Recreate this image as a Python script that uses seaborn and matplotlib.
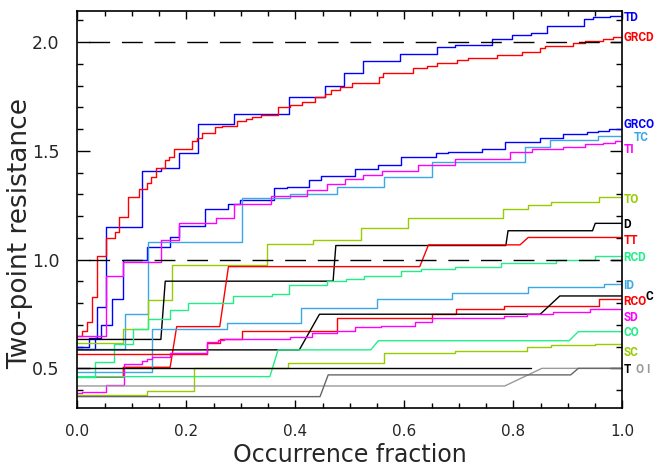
import numpy as np
import pandas as pd
import matplotlib
matplotlib.use("Agg")
import matplotlib.pyplot as plt
import matplotlib.transforms as mtransforms
from matplotlib.ticker import MultipleLocator, FormatStrFormatter
import seaborn as sns

# ---------------- data (occurrence fraction vs two-point resistance) -------------
TD_x = [0, 0.021, 0.035, 0.052, 0.119, 0.153, 0.187, 0.221, 0.288, 0.389, 0.455, 0.489, 0.523, 0.592,
        0.659, 0.693, 0.760, 0.797, 0.832, 0.862, 0.930, 0.945, 0.977, 1.0]
TD_y = [0.600, 0.640, 0.782, 1.150, 1.408, 1.422, 1.491, 1.624, 1.670, 1.750, 1.800, 1.857, 1.915, 1.946,
        1.977, 1.988, 2.014, 2.035, 2.044, 2.076, 2.106, 2.115, 2.122, 2.122]

GRCD_x = [0, 0.009, 0.018, 0.026, 0.035, 0.052, 0.068, 0.077, 0.093, 0.112, 0.127, 0.135, 0.144, 0.161,
          0.168, 0.177, 0.210, 0.220, 0.228, 0.252, 0.265, 0.293, 0.309, 0.321, 0.336, 0.368, 0.390,
          0.412, 0.436, 0.455, 0.465, 0.482, 0.503, 0.554, 0.561, 0.616, 0.641, 0.659, 0.696, 0.717,
          0.769, 0.815, 0.849, 0.858, 0.910, 0.931, 0.965, 0.983, 1.0]
GRCD_y = [0.647, 0.672, 0.715, 0.830, 1.018, 1.101, 1.126, 1.198, 1.290, 1.325, 1.354, 1.382, 1.423, 1.459,
          1.471, 1.511, 1.546, 1.561, 1.581, 1.609, 1.615, 1.638, 1.646, 1.655, 1.667, 1.704, 1.713,
          1.727, 1.750, 1.762, 1.781, 1.793, 1.811, 1.842, 1.860, 1.880, 1.892, 1.903, 1.919, 1.926,
          1.942, 1.957, 1.975, 1.983, 1.998, 2.007, 2.017, 2.026, 2.030]

GRCO_x = [0, 0.033, 0.043, 0.064, 0.084, 0.127, 0.170, 0.187, 0.234, 0.276, 0.298, 0.361, 0.385, 0.425,
          0.446, 0.509, 0.552, 0.594, 0.658, 0.680, 0.743, 0.785, 0.849, 0.891, 0.934, 0.956, 0.975, 1.0]
GRCO_y = [0.590, 0.640, 0.700, 0.821, 0.999, 1.057, 1.104, 1.156, 1.233, 1.255, 1.275, 1.328, 1.334, 1.367,
          1.387, 1.417, 1.436, 1.472, 1.491, 1.497, 1.507, 1.540, 1.560, 1.576, 1.586, 1.593, 1.601, 1.601]

TC_x = [0, 0.087, 0.129, 0.301, 0.390, 0.476, 0.563, 0.650, 0.821, 0.867, 0.955, 1.0]
TC_y = [0.589, 0.750, 1.083, 1.282, 1.300, 1.333, 1.382, 1.448, 1.520, 1.551, 1.569, 1.569]

TI_x = [0, 0.052, 0.084, 0.153, 0.187, 0.254, 0.287, 0.355, 0.422, 0.457, 0.491, 0.524, 0.558, 0.625,
        0.693, 0.794, 0.834, 0.891, 0.931, 0.965, 0.986, 1.0]
TI_y = [0.649, 0.926, 0.988, 1.091, 1.170, 1.190, 1.256, 1.294, 1.321, 1.347, 1.370, 1.390, 1.409, 1.436,
        1.463, 1.497, 1.509, 1.520, 1.531, 1.538, 1.545, 1.545]

TO_x = [0, 0.084, 0.129, 0.174, 0.347, 0.433, 0.521, 0.607, 0.781, 0.826, 0.868, 0.957, 1.0]
TO_y = [0.618, 0.680, 0.815, 0.976, 1.072, 1.090, 1.144, 1.190, 1.232, 1.252, 1.267, 1.287, 1.287]

D_x = [0, 0.153, 0.161, 0.469, 0.474, 0.786, 0.790, 0.945, 0.950, 1.0]
D_y = [0.633, 0.633, 0.901, 0.901, 1.065, 1.065, 1.133, 1.133, 1.167, 1.167]

TT_x = [0, 0.084, 0.084, 0.170, 0.182, 0.261, 0.277, 0.628, 0.644, 0.812, 0.827, 1.0]
TT_y = [0.460, 0.460, 0.505, 0.505, 0.692, 0.692, 0.968, 0.968, 1.068, 1.068, 1.102, 1.102]

RCD_x = [0, 0.033, 0.067, 0.101, 0.130, 0.170, 0.203, 0.286, 0.357, 0.389, 0.458, 0.493, 0.526, 0.593,
         0.630, 0.693, 0.777, 0.878, 0.950, 1.0]
RCD_y = [0.462, 0.528, 0.612, 0.680, 0.726, 0.769, 0.802, 0.833, 0.842, 0.884, 0.903, 0.912, 0.923, 0.949,
         0.956, 0.965, 0.984, 1.000, 1.016, 1.016]

ID_x = [0, 0.136, 0.274, 0.411, 0.549, 0.688, 0.826, 0.966, 1.0]
ID_y = [0.485, 0.680, 0.707, 0.779, 0.818, 0.845, 0.873, 0.890, 0.890]

RCO_x = [0, 0.237, 0.261, 0.301, 0.476, 0.650, 0.694, 0.782, 0.957, 1.0]
RCO_y = [0.566, 0.615, 0.635, 0.673, 0.730, 0.749, 0.772, 0.788, 0.818, 0.818]

C_x = [0, 0.407, 0.444, 0.849, 0.885, 1.0]
C_y = [0.585, 0.585, 0.749, 0.749, 0.833, 0.833]

SD_x = [0, 0.009, 0.052, 0.085, 0.119, 0.128, 0.136, 0.170, 0.238, 0.257, 0.269, 0.390, 0.430, 0.476,
        0.510, 0.556, 0.620, 0.650, 0.782, 0.825, 0.873, 0.940, 1.0]
SD_y = [0.385, 0.390, 0.424, 0.519, 0.534, 0.545, 0.550, 0.569, 0.620, 0.631, 0.636, 0.646, 0.661, 0.670,
        0.689, 0.697, 0.712, 0.730, 0.741, 0.750, 0.761, 0.773, 0.773]

CO_x = [0, 0.353, 0.368, 0.538, 0.552, 0.902, 0.919, 1.0]
CO_y = [0.462, 0.462, 0.585, 0.585, 0.627, 0.627, 0.669, 0.669]

SC_x = [0, 0.127, 0.214, 0.387, 0.562, 0.693, 0.825, 0.868, 0.950, 1.0]
SC_y = [0.376, 0.396, 0.502, 0.526, 0.572, 0.581, 0.597, 0.608, 0.614, 0.614]

T_x = [0, 0.832]
T_y = [0.500, 0.500]

O_x = [0, 0.784, 0.852, 1.0]
O_y = [0.419, 0.419, 0.500, 0.500]

I_x = [0, 0.445, 0.460, 0.905, 0.919, 1.0]
I_y = [0.370, 0.370, 0.470, 0.470, 0.500, 0.500]

REF_LEVELS = [2.0, 1.0]

# ---------------- styles ----------------
BLUE, RED, MAG = "#0000FF", "#FF0000", "#FF00FF"
SKY, LIME, GREEN = "#3AA8E6", "#99CC00", "#22EE88"
BLACK, LGRAY, DGRAY = "#000000", "#9A9A9A", "#666666"

series = [
    ("TD", TD_x, TD_y, BLUE, "steps-post"),
    ("GRCD", GRCD_x, GRCD_y, RED, "steps-post"),
    ("GRCO", GRCO_x, GRCO_y, BLUE, "steps-post"),
    ("TC", TC_x, TC_y, SKY, "steps-post"),
    ("TI", TI_x, TI_y, MAG, "steps-post"),
    ("TO", TO_x, TO_y, LIME, "steps-post"),
    ("D", D_x, D_y, BLACK, "default"),
    ("TT", TT_x, TT_y, RED, "default"),
    ("RCD", RCD_x, RCD_y, GREEN, "steps-post"),
    ("ID", ID_x, ID_y, SKY, "steps-post"),
    ("RCO", RCO_x, RCO_y, RED, "steps-post"),
    ("C", C_x, C_y, BLACK, "default"),
    ("SD", SD_x, SD_y, MAG, "steps-post"),
    ("CO", CO_x, CO_y, GREEN, "default"),
    ("SC", SC_x, SC_y, LIME, "steps-post"),
    ("T", T_x, T_y, BLACK, "default"),
    ("O", O_x, O_y, LGRAY, "default"),
    ("I", I_x, I_y, DGRAY, "default"),
]

# label placement: (text, colour, x in axes fraction, y in data units)
labels = [
    ("TD", BLUE, 1.002, 2.112), ("GRCD", RED, 1.002, 2.020), ("GRCO", BLUE, 1.002, 1.620),
    ("TC", SKY, 1.021, 1.560), ("TI", MAG, 1.002, 1.505), ("TO", LIME, 1.002, 1.275),
    ("D", BLACK, 1.002, 1.160), ("TT", RED, 1.002, 1.086), ("RCD", GREEN, 1.002, 1.008),
    ("ID", SKY, 1.002, 0.880), ("RCO", RED, 1.002, 0.807), ("C", BLACK, 1.043, 0.829),
    ("SD", MAG, 1.002, 0.734), ("CO", GREEN, 1.002, 0.663), ("SC", LIME, 1.002, 0.575),
    ("T", BLACK, 1.003, 0.493), ("O", LGRAY, 1.023, 0.493), ("I", LGRAY, 1.044, 0.493),
]

sns.set_theme(style="white")
plt.rcParams["font.family"] = ["DejaVu Sans"]

fig = plt.figure(figsize=(6.54, 4.72), dpi=100)
ax = fig.add_axes([0.1185, 0.1362, 0.8333, 0.8411])

for name, xs, ys, col, ds in series:
    df = pd.DataFrame({"x": xs, "y": ys})
    sns.lineplot(data=df, x="x", y="y", ax=ax, color=col, lw=1.0, estimator=None,
                 sort=False, drawstyle=ds, legend=False)

for lev in REF_LEVELS:
    ax.axhline(lev, color="black", lw=1.0, linestyle=(15, (15, 8.5)))

ax.set_xlim(0, 1.0)
ax.set_ylim(0.319, 2.145)

ax.xaxis.set_major_locator(MultipleLocator(0.2))
ax.xaxis.set_minor_locator(MultipleLocator(0.05))
ax.yaxis.set_major_locator(MultipleLocator(0.5))
ax.yaxis.set_minor_locator(MultipleLocator(0.1))
ax.xaxis.set_major_formatter(FormatStrFormatter("%.1f"))
ax.yaxis.set_major_formatter(FormatStrFormatter("%.1f"))

ax.tick_params(axis="both", which="both", direction="in", top=True, right=True,
               bottom=True, left=True, color="black", width=1.0)
ax.tick_params(axis="x", which="major", length=6, pad=12, labelsize=11)
ax.tick_params(axis="x", which="minor", length=3.5)
ax.tick_params(axis="y", which="major", length=9, pad=13, labelsize=12.5)
ax.tick_params(axis="y", which="minor", length=4.5)

for sp in ax.spines.values():
    sp.set_color("black")
    sp.set_linewidth(1.2)

ax.set_xlabel("Occurrence fraction", fontsize=17)
ax.set_ylabel("Two-point resistance", fontsize=19)
ax.xaxis.set_label_coords(0.5, -0.09)
ax.yaxis.set_label_coords(-0.082, 0.44)

trans = mtransforms.blended_transform_factory(ax.transAxes, ax.transData)
for txt, col, xa, yd in labels:
    ax.text(xa, yd, txt, color=col, transform=trans, ha="left", va="center",
            fontsize=8.5, fontweight="bold", clip_on=False,
            family=["Roboto", "DejaVu Sans"])

fig.savefig("out.png", dpi=100)
